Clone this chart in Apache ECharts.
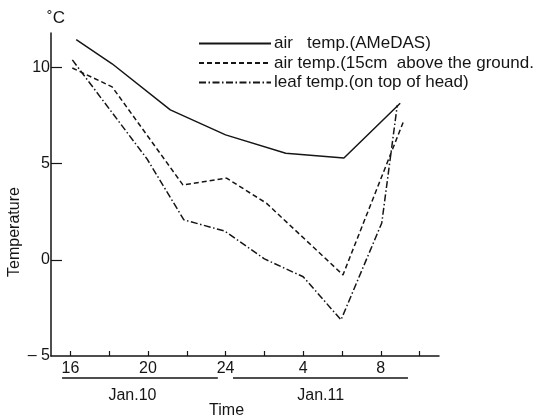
<!DOCTYPE html>
<html>
<head>
<meta charset="utf-8">
<script src="https://cdn.jsdelivr.net/npm/echarts@6/dist/echarts.min.js"></script>
<style>
html,body{margin:0;padding:0;background:#fff;}
#chart{width:546px;height:420px;}
</style>
</head>
<body>
<div id="chart"></div>
<script>
// ---- data ----
const seriesNames = [
  'air   temp.(AMeDAS)',
  'air temp.(15cm  above the ground.',
  'leaf temp.(on top of head)'
];
// hours counted from 0:00 Jan.10 (so 28 = 4:00 Jan.11)
const amedasHours = [16.3, 18.15, 21.15, 24.0, 27.1, 30.1, 33.0];
const amedasTemps = [11.45, 10.2, 7.8, 6.5, 5.55, 5.3, 8.15];

const groundHours = [16.1, 18.15, 21.8, 24.05, 26.1, 30.05, 33.15];
const groundTemps = [9.98, 9.0, 3.9, 4.25, 2.95, -0.78, 7.15];

const leafHours = [16.1, 19.95, 21.85, 23.95, 26.0, 28.0, 29.95, 32.05, 32.85];
const leafTemps = [10.4, 5.25, 2.08, 1.5, 0.05, -0.88, -3.12, 1.92, 8.05];

const xTickHours = [16, 18, 20, 22, 24, 26, 28, 30, 32, 34];
const xLabelHours = [16, 20, 24, 28, 32];
const yTickValues = [0, 5, 10];
const yLabelValues = [-5, 0, 5, 10];
const dayLabels = ['Jan.10', 'Jan.11'];
const daySpans = [[15.57, 23.6], [24.38, 33.4]];
const dayLabelHours = [19.2, 28.9];

// ---- chart ----
const FONT = 'Liberation Sans, Arial, sans-serif';
const INK = '#151515';
const pair = (xs, ys) => xs.map((x, i) => [x, ys[i]]);

const chart = echarts.init(document.getElementById('chart'), null, {renderer: 'canvas'});

const dashTypes = ['solid', [5, 3], [7, 2.5, 1.5, 2.5]];
const datas = [pair(amedasHours, amedasTemps), pair(groundHours, groundTemps), pair(leafHours, leafTemps)];

const option = {
  animation: false,
  backgroundColor: '#fff',
  grid: {left: 51, right: 107, top: 33, bottom: 64, containLabel: false},
  legend: {
    orient: 'vertical',
    left: 193,
    top: 30,
    itemWidth: 72,
    itemHeight: 12,
    itemGap: 2.5,
    itemStyle: {opacity: 0},
    textStyle: {fontFamily: FONT, fontSize: 17, color: INK, padding: [0, 0, 0, -2]},
    data: seriesNames
  },
  xAxis: {
    type: 'value',
    min: 15,
    max: 35,
    axisLine: {show: true, onZero: false, lineStyle: {color: INK, width: 1.5}},
    axisTick: {show: true, inside: true, length: 5, customValues: xTickHours, lineStyle: {color: INK, width: 1.2}},
    axisLabel: {
      customValues: xLabelHours,
      fontFamily: FONT, fontSize: 16, color: INK, margin: 5,
      formatter: v => String(v > 24 ? v - 24 : v)
    },
    splitLine: {show: false}
  },
  yAxis: {
    type: 'value',
    min: -5,
    max: 11.8,
    axisLine: {show: true, onZero: false, lineStyle: {color: INK, width: 1.5}},
    axisTick: {show: true, inside: true, length: 11, customValues: yTickValues, lineStyle: {color: INK, width: 1.2}},
    axisLabel: {
      customValues: yLabelValues,
      fontFamily: FONT, fontSize: 16, color: INK, margin: 1,
      formatter: v => v < 0 ? '\u2013 ' + Math.abs(v) : String(v)
    },
    splitLine: {show: false}
  },
  series: seriesNames.map((name, i) => ({
    name: name,
    type: 'line',
    data: datas[i],
    symbol: 'none',
    smooth: false,
    lineStyle: {color: INK, width: 1.5, type: dashTypes[i]},
    itemStyle: {color: INK}
  }))
};
chart.setOption(option);

// ---- annotations positioned through the axes ----
function px(x, y) { return chart.convertToPixel({gridIndex: 0}, [x, y]); }
const base = px(15, -5);
const topLeft = px(15, 11.8);
const textStyleBase = {fontFamily: FONT, fill: INK};
const graphics = [];
daySpans.forEach((s, i) => {
  const a = px(s[0], -5), b = px(s[1], -5);
  graphics.push({
    type: 'line', silent: true,
    shape: {x1: a[0], y1: base[1] + 22, x2: b[0], y2: base[1] + 22},
    style: {stroke: INK, lineWidth: 1.3}
  });
  const c = px(dayLabelHours[i], -5);
  graphics.push({
    type: 'text', silent: true,
    x: c[0], y: base[1] + 40,
    style: Object.assign({text: dayLabels[i], fontSize: 16, align: 'center', verticalAlign: 'middle'}, textStyleBase)
  });
});
const tpos = px(24.05, -5);
graphics.push({
  type: 'text', silent: true,
  x: tpos[0], y: base[1] + 55,
  style: Object.assign({text: 'Time', fontSize: 16, align: 'center', verticalAlign: 'middle'}, textStyleBase)
});
graphics.push({
  type: 'text', silent: true,
  x: 15, y: px(15, 1.45)[1],
  rotation: Math.PI / 2,
  style: Object.assign({text: 'Temperature', fontSize: 16, align: 'center', verticalAlign: 'middle'}, textStyleBase)
});
graphics.push({
  type: 'text', silent: true,
  x: topLeft[0] + 5, y: topLeft[1] - 15,
  style: Object.assign({text: '\u02DAC', fontSize: 17, align: 'center', verticalAlign: 'middle'}, textStyleBase)
});
chart.setOption({graphic: graphics});
</script>
</body>
</html>
